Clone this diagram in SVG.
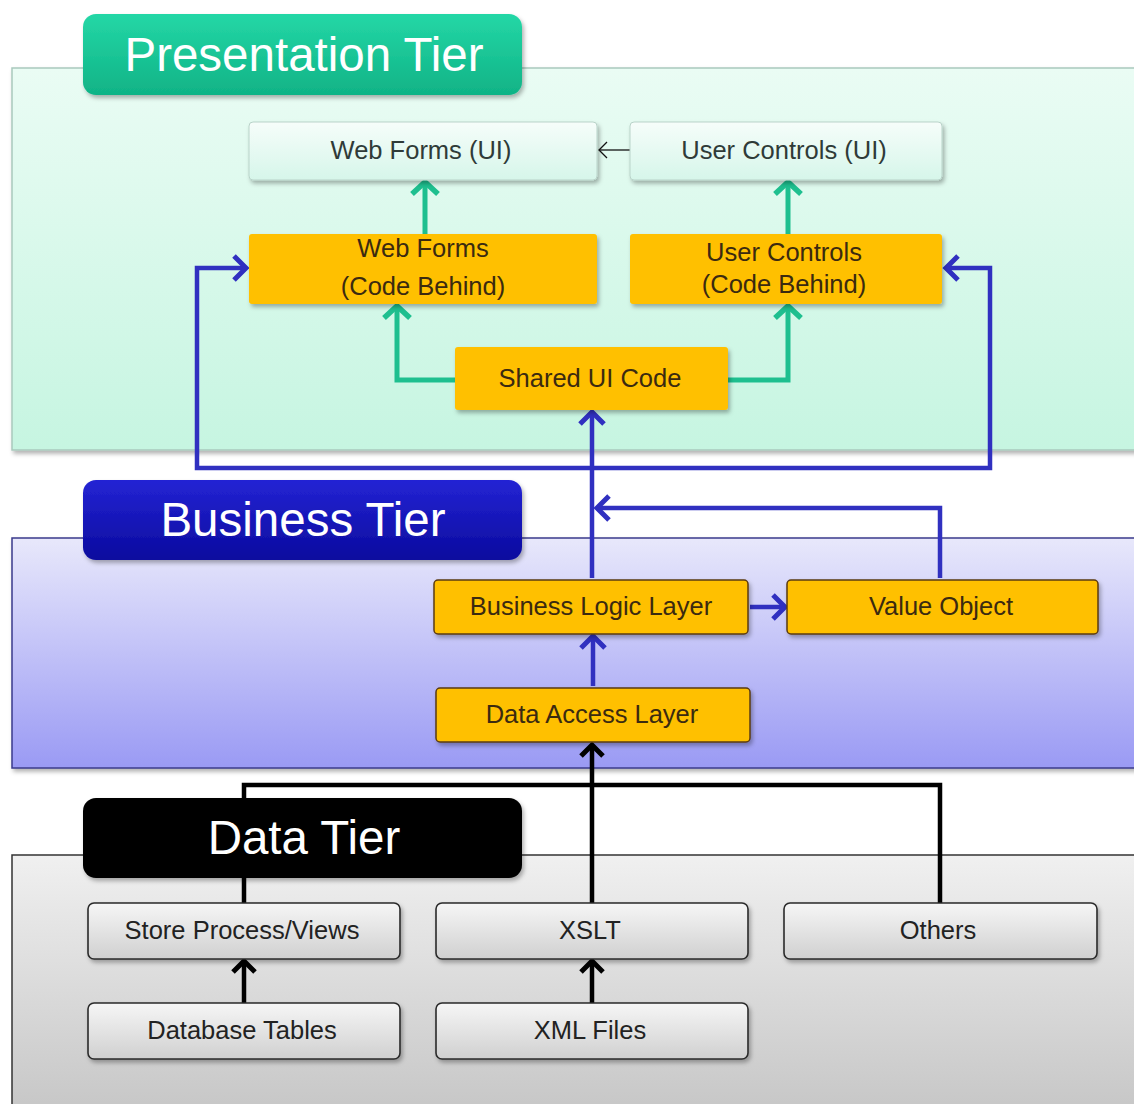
<svg xmlns="http://www.w3.org/2000/svg" width="1134" height="1104" viewBox="0 0 1134 1104">
<style>
text{font-family:"Liberation Sans",Arial,sans-serif;text-anchor:middle}
.hdr{font-size:47.5px;fill:#fff}
.lbl{font-size:25.5px}
.ui{fill:url(#gUi);stroke:#b9d3c9;stroke-width:1}
.ui-t{fill:#2f3b38}
.org{fill:#ffc000}
.orgb{fill:#ffc000;stroke:#5a3a12;stroke-width:1.5}
.org-t{fill:#3b2a10}
.dat{fill:url(#gDat);stroke:#2a2a2a;stroke-width:1.6}
.dat-t{fill:#222}
.teal{fill:none;stroke:#1ebf8f;stroke-width:5}
.blue{fill:none;stroke:#3030c0;stroke-width:4.5}
.blk{fill:none;stroke:#000;stroke-width:4.5}
.thin{fill:none;stroke:#111;stroke-width:1.3}
</style>
<defs>
<linearGradient id="gPres" x1="0" y1="0" x2="0" y2="1"><stop offset="0" stop-color="#eafcf4"/><stop offset="1" stop-color="#c6f5e1"/></linearGradient>
<linearGradient id="gBus" x1="0" y1="0" x2="0" y2="1"><stop offset="0" stop-color="#e8e8fb"/><stop offset="1" stop-color="#9a9af4"/></linearGradient>
<linearGradient id="gData" x1="0" y1="0" x2="0" y2="1"><stop offset="0" stop-color="#f0f0f0"/><stop offset="1" stop-color="#c6c6c6"/></linearGradient>
<linearGradient id="gUi" x1="0" y1="0" x2="0" y2="1"><stop offset="0" stop-color="#f6fdfa"/><stop offset="1" stop-color="#d6f6ea"/></linearGradient>
<linearGradient id="gDat" x1="0" y1="0" x2="0" y2="1"><stop offset="0" stop-color="#f6f6f6"/><stop offset="1" stop-color="#d0d0d0"/></linearGradient>
<linearGradient id="gHP" x1="0" y1="0" x2="0" y2="1"><stop offset="0" stop-color="#24d7a6"/><stop offset="1" stop-color="#10b386"/></linearGradient>
<linearGradient id="gHB" x1="0" y1="0" x2="0" y2="1"><stop offset="0" stop-color="#2424d4"/><stop offset="1" stop-color="#0a0a9e"/></linearGradient>
<filter id="sh" x="-10%" y="-20%" width="120%" height="150%"><feDropShadow dx="2" dy="3" stdDeviation="2" flood-color="#000" flood-opacity="0.3"/></filter>
<marker id="mTeal" markerUnits="userSpaceOnUse" markerWidth="32" markerHeight="32" refX="16" refY="16" orient="auto"><path d="M4,3 L16,16 L4,29" fill="none" stroke="#1ebf8f" stroke-width="5.5"/></marker>
<marker id="mBlue" markerUnits="userSpaceOnUse" markerWidth="32" markerHeight="32" refX="16" refY="16" orient="auto"><path d="M4,4 L16,16 L4,28" fill="none" stroke="#3030c0" stroke-width="5"/></marker>
<marker id="mBlk" markerUnits="userSpaceOnUse" markerWidth="30" markerHeight="30" refX="15" refY="15" orient="auto"><path d="M4,4 L15,15 L4,26" fill="none" stroke="#000" stroke-width="5"/></marker>
<marker id="mThin" markerUnits="userSpaceOnUse" markerWidth="20" markerHeight="20" refX="10" refY="10" orient="auto"><path d="M2,2 L10,10 L2,18" fill="none" stroke="#111" stroke-width="1.3"/></marker>
</defs>

<rect width="1134" height="1104" fill="#fff"/>

<g id="panels">
<rect x="12" y="68" width="1130" height="382" fill="url(#gPres)" stroke="#a9c9bd" stroke-width="1.5" filter="url(#sh)"/>
<rect x="12" y="538" width="1130" height="230" fill="url(#gBus)" stroke="#3a3a8c" stroke-width="1.5" filter="url(#sh)"/>
<rect x="12" y="855" width="1130" height="260" fill="url(#gData)" stroke="#333" stroke-width="1.5"/>
</g>

<g id="connectors">
<path class="teal" d="M425,234 V182" marker-end="url(#mTeal)"/>
<path class="teal" d="M788,234 V182" marker-end="url(#mTeal)"/>
<path class="teal" d="M455,380 H397 V306" marker-end="url(#mTeal)"/>
<path class="teal" d="M728,380 H788 V306" marker-end="url(#mTeal)"/>
<path class="thin" d="M630,150 H599" marker-end="url(#mThin)"/>
<path class="blue" d="M592,578 V412" marker-end="url(#mBlue)"/>
<path class="blue" d="M592,468 H197 V268 H246" marker-end="url(#mBlue)"/>
<path class="blue" d="M592,468 H990 V268 H946" marker-end="url(#mBlue)"/>
<path class="blue" d="M940,578 V508 H597" marker-end="url(#mBlue)"/>
<path class="blue" d="M750,607 H785" marker-end="url(#mBlue)"/>
<path class="blue" d="M593,686 V636" marker-end="url(#mBlue)"/>
<path class="blk" d="M592,903 V745" marker-end="url(#mBlk)"/>
<path class="blk" d="M244,903 V785 H940 V903"/>
<path class="blk" d="M244,1003 V961" marker-end="url(#mBlk)"/>
<path class="blk" d="M592,1003 V961" marker-end="url(#mBlk)"/>
</g>

<g id="hdr-presentation"><rect x="83" y="14" width="439" height="81" rx="13" fill="url(#gHP)" filter="url(#sh)"/><text class="hdr" x="304" y="71">Presentation Tier</text></g>
<g id="hdr-business"><rect x="83" y="480" width="439" height="80" rx="13" fill="url(#gHB)" filter="url(#sh)"/><text class="hdr" x="303" y="536">Business Tier</text></g>
<g id="hdr-data"><rect x="83" y="798" width="439" height="80" rx="13" fill="#000" filter="url(#sh)"/><text class="hdr" x="304" y="854">Data Tier</text></g>

<g id="n-webforms-ui"><rect class="ui" x="249" y="122" width="348" height="58" rx="4" filter="url(#sh)"/><text class="lbl ui-t" x="421" y="159">Web Forms (UI)</text></g>
<g id="n-usercontrols-ui"><rect class="ui" x="630" y="122" width="312" height="58" rx="4" filter="url(#sh)"/><text class="lbl ui-t" x="784" y="159">User Controls (UI)</text></g>
<g id="n-webforms-cb"><rect class="org" x="249" y="234" width="348" height="70" rx="3" filter="url(#sh)"/><text class="lbl org-t" x="423" y="257">Web Forms</text><text class="lbl org-t" x="423" y="295">(Code Behind)</text></g>
<g id="n-usercontrols-cb"><rect class="org" x="630" y="234" width="312" height="70" rx="3" filter="url(#sh)"/><text class="lbl org-t" x="784" y="261">User Controls</text><text class="lbl org-t" x="784" y="293">(Code Behind)</text></g>
<g id="n-shared"><rect class="org" x="455" y="347" width="273" height="63" rx="3" filter="url(#sh)"/><text class="lbl org-t" x="590" y="387">Shared UI  Code</text></g>

<g id="n-bll"><rect class="orgb" x="434" y="580" width="314" height="54" rx="4" filter="url(#sh)"/><text class="lbl org-t" x="591" y="615">Business Logic Layer</text></g>
<g id="n-vo"><rect class="orgb" x="787" y="580" width="311" height="54" rx="4" filter="url(#sh)"/><text class="lbl org-t" x="941" y="615">Value Object</text></g>
<g id="n-dal"><rect class="orgb" x="436" y="688" width="314" height="54" rx="4" filter="url(#sh)"/><text class="lbl org-t" x="592" y="723">Data Access Layer</text></g>

<g id="n-spv"><rect class="dat" x="88" y="903" width="312" height="56" rx="6" filter="url(#sh)"/><text class="lbl dat-t" x="242" y="939">Store Process/Views</text></g>
<g id="n-xslt"><rect class="dat" x="436" y="903" width="312" height="56" rx="6" filter="url(#sh)"/><text class="lbl dat-t" x="590" y="939">XSLT</text></g>
<g id="n-others"><rect class="dat" x="784" y="903" width="313" height="56" rx="6" filter="url(#sh)"/><text class="lbl dat-t" x="938" y="939">Others</text></g>
<g id="n-dbtables"><rect class="dat" x="88" y="1003" width="312" height="56" rx="6" filter="url(#sh)"/><text class="lbl dat-t" x="242" y="1039">Database Tables</text></g>
<g id="n-xml"><rect class="dat" x="436" y="1003" width="312" height="56" rx="6" filter="url(#sh)"/><text class="lbl dat-t" x="590" y="1039">XML Files</text></g>
</svg>
